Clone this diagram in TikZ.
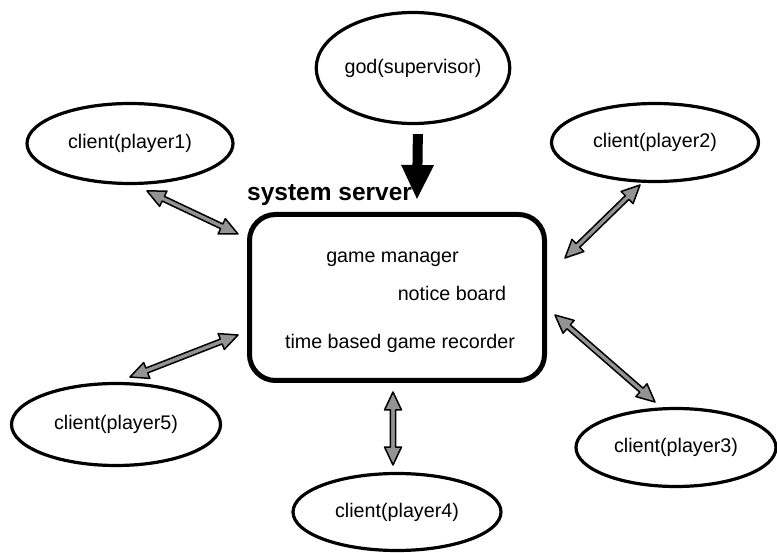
\documentclass[tikz,border=0pt]{standalone}
\usepackage{fontspec}
\setmainfont{Liberation Sans}
\usetikzlibrary{shapes.geometric,arrows.meta,calc}
\tikzset{
  client/.style={draw, ellipse, line width=3.2pt, inner sep=0pt, font=\fontsize{19.7}{23}\selectfont},
  boxtext/.style={anchor=base, font=\fontsize{19.7}{23}\selectfont},
  garrow/.style={fill=gray!85, draw=black, line width=1.5pt, line join=round},
  serverbox/.style={draw, rounded corners=26pt, line width=5pt, inner sep=0pt},
  godarrow/.style={line width=10pt, -{Triangle[length=35pt,width=30pt]}},
}
\newcommand\dblgarrow[2]{%
 \filldraw[garrow] (#1)
  -- ($(#1)!18pt!(#2)!8.5pt!90:(#2)$)
  -- ($(#1)!18pt!(#2)!2.6pt!90:(#2)$)
  -- ($(#2)!18pt!(#1)!2.6pt!-90:(#1)$)
  -- ($(#2)!18pt!(#1)!8.5pt!-90:(#1)$)
  -- (#2)
  -- ($(#2)!18pt!(#1)!8.5pt!90:(#1)$)
  -- ($(#2)!18pt!(#1)!2.6pt!90:(#1)$)
  -- ($(#1)!18pt!(#2)!2.6pt!-90:(#2)$)
  -- ($(#1)!18pt!(#2)!8.5pt!-90:(#2)$)
  -- cycle;}
\begin{document}
\begin{tikzpicture}[x=1pt,y=-1pt]
\useasboundingbox (0,0) rectangle (777,553);
% clients and supervisor
\node[client, minimum width=184pt, minimum height=111pt] (god) at (413,68) {god(supervisor)};
\node[client, minimum width=206pt, minimum height=80pt] (p1) at (130,143.5) {client(player1)};
\node[client, minimum width=207pt, minimum height=78pt] (p2) at (655,142.5) {client(player2)};
\node[client, minimum width=209pt, minimum height=82pt] (p5) at (116,424.5) {client(player5)};
\node[client, minimum width=200pt, minimum height=78pt] (p3) at (676,447.5) {client(player3)};
\node[client, minimum width=208pt, minimum height=77pt] (p4) at (397,512) {client(player4)};
% server
\node[serverbox, minimum width=295pt, minimum height=166pt] (server) at (397,297.5) {};
\node[anchor=base west, inner sep=0pt, font=\bfseries\fontsize{24.5}{28}\selectfont] (title) at (247,201) {system server};
\node[boxtext] (gm) at (392.5,263) {game manager};
\node[boxtext] (nb) at (452,301) {notice board};
\node[boxtext] (tr) at (400,349) {time based game recorder};
% supervisor arrow
\coordinate (gtip) at (417,200);
\draw[godarrow, shorten <=9pt] ([xshift=5pt]god.south) -- (gtip);
% client arrows
\coordinate (a1s) at (147,191); \coordinate (a1e) at (238,234);
\coordinate (a2s) at (640,185); \coordinate (a2e) at (565,258);
\coordinate (a5s) at (238,335); \coordinate (a5e) at (130,377);
\coordinate (a3s) at (555,315); \coordinate (a3e) at (655,402);
\coordinate (a4s) at (393,392); \coordinate (a4e) at (393,465);
\dblgarrow{a1s}{a1e}
\dblgarrow{a2s}{a2e}
\dblgarrow{a5s}{a5e}
\dblgarrow{a3s}{a3e}
\dblgarrow{a4s}{a4e}
\end{tikzpicture}
\end{document}
